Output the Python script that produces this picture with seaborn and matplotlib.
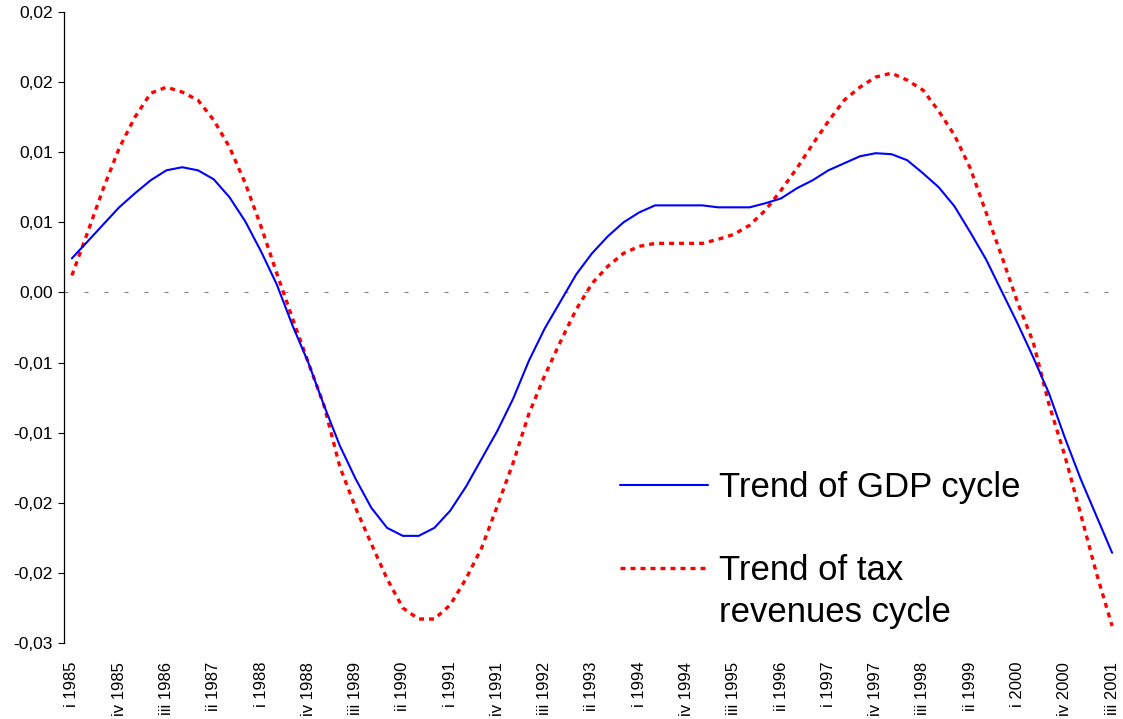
import numpy as np
import pandas as pd
import matplotlib
matplotlib.use("Agg")
import matplotlib.pyplot as plt
from matplotlib.lines import Line2D
import seaborn as sns

# quarters i 1985 .. iii 2001
roman = ["i", "ii", "iii", "iv"]
quarters = [f"{q} {y}" for y in range(1985, 2002) for q in roman][:67]

gdp_trend = [0.00243, 0.00364, 0.00486, 0.00607, 0.00707, 0.00800, 0.00871, 0.00893,
             0.00871, 0.00807, 0.00679, 0.00507, 0.00293, 0.00057, -0.00236, -0.00500,
             -0.00807, -0.01093, -0.01329, -0.01536, -0.01679, -0.01736, -0.01736, -0.01679,
             -0.01557, -0.01386, -0.01186, -0.00986, -0.00757, -0.00486, -0.00257, -0.00064,
             0.00129, 0.00279, 0.00400, 0.00500, 0.00571, 0.00621, 0.00621, 0.00621,
             0.00621, 0.00607, 0.00607, 0.00607, 0.00636, 0.00671, 0.00743, 0.00800,
             0.00871, 0.00921, 0.00971, 0.00993, 0.00986, 0.00943, 0.00850, 0.00750,
             0.00614, 0.00429, 0.00236, 0.00007, -0.00221, -0.00464, -0.00721, -0.01036,
             -0.01329, -0.01593, -0.01857]

tax_trend = [0.00121, 0.00429, 0.00743, 0.01029, 0.01250, 0.01421, 0.01464, 0.01429,
             0.01371, 0.01229, 0.01036, 0.00779, 0.00471, 0.00136, -0.00186, -0.00500,
             -0.00807, -0.01243, -0.01536, -0.01793, -0.02043, -0.02250, -0.02329, -0.02329,
             -0.02229, -0.02043, -0.01821, -0.01521, -0.01214, -0.00864, -0.00593, -0.00350,
             -0.00121, 0.00064, 0.00186, 0.00279, 0.00329, 0.00350, 0.00350, 0.00350,
             0.00350, 0.00379, 0.00414, 0.00479, 0.00586, 0.00729, 0.00886, 0.01057,
             0.01221, 0.01371, 0.01464, 0.01536, 0.01564, 0.01514, 0.01443, 0.01293,
             0.01121, 0.00886, 0.00571, 0.00257, -0.00071, -0.00357, -0.00800, -0.01164,
             -0.01579, -0.02000, -0.02379]

y_ticks = [0.02, 0.015, 0.01, 0.005, 0.0, -0.005, -0.01, -0.015, -0.02, -0.025]
y_tick_labels = ["0,02", "0,02", "0,01", "0,01", "0,00", "-0,01", "-0,01", "-0,02", "-0,02", "-0,03"]

df = pd.DataFrame({"pos": np.arange(len(quarters)), "quarter": quarters,
                   "gdp": gdp_trend, "tax": tax_trend})

sns.set_style("white")
plt.rcParams["font.family"] = ["Liberation Sans", "DejaVu Sans"]
plt.rcParams["text.color"] = "black"
plt.rcParams["xtick.color"] = "black"
plt.rcParams["ytick.color"] = "black"

fig = plt.figure(figsize=(11.23, 7.19), dpi=100)
ax = fig.add_axes([64 / 1123, 76 / 719, 1056 / 1123, 631 / 719])

ax.axhline(0, color="#808080", lw=0.8, ls=(0, (3.6, 14.4)), zorder=1)
sns.lineplot(data=df, x="pos", y="gdp", ax=ax, color="#0000FF", lw=1.5, zorder=3)
sns.lineplot(data=df, x="pos", y="tax", ax=ax, color="#FF0000", lw=2.4,
             ls=(0, (1.5, 1.5)), zorder=2)

ax.set_xlim(-0.5, len(quarters) - 0.5)
ax.set_ylim(-0.025, 0.02)
ax.set_yticks(y_ticks)
ax.set_yticklabels(y_tick_labels, fontsize=12.5)
ax.set_xticks(df["pos"][::3])
ax.set_xticklabels(df["quarter"][::3], rotation=90, fontsize=12)
ax.tick_params(axis="x", length=0, pad=13.5)
ax.tick_params(axis="y", left=True, length=4, width=0.8, pad=4)
ax.set_xlabel("")
ax.set_ylabel("")

for s in ["top", "right", "bottom"]:
    ax.spines[s].set_visible(False)
ax.spines["left"].set_color("black")
ax.spines["left"].set_linewidth(0.9)

# legend: tax label spread over two rows, handle on the first one
gdp_line, tax_line = ax.get_lines()[1], ax.get_lines()[2]
blank = Line2D([], [], color="none")
ax.legend([gdp_line, blank, tax_line, blank],
          ["Trend of GDP cycle", " ", "Trend of tax", "revenues cycle"],
          loc="upper left", bbox_to_anchor=((620 - 64) / 1056, (643 - 471) / 631),
          frameon=False, fontsize=25, handlelength=2.54, handletextpad=0.3,
          borderpad=0, borderaxespad=0, labelspacing=0.25)

fig.savefig("out.png", dpi=100)
